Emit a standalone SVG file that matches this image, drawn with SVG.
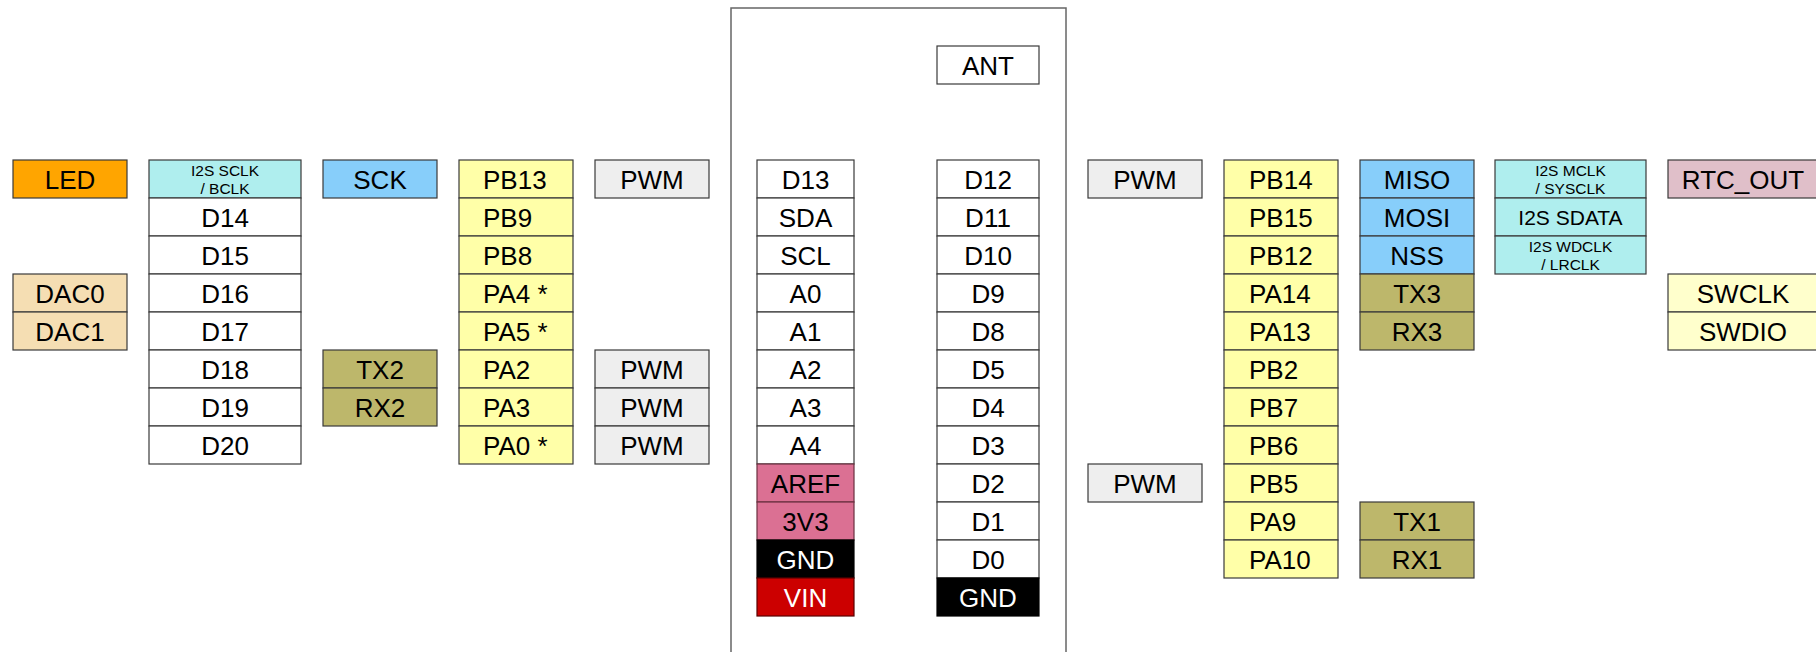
<svg xmlns="http://www.w3.org/2000/svg" width="1816" height="652" viewBox="0 0 1816 652">
<style>
rect{stroke:#3a3a3a;stroke-width:1.2}
text{font-family:"Liberation Sans",Arial,sans-serif;font-size:26px;fill:#000;text-anchor:middle}
.l{text-anchor:start}
.s{font-size:15.5px}
.m{font-size:21px}
.w{fill:#fff}
.led{fill:#FFA500}
.dac{fill:#F5DEB3}
.i2s{fill:#AFEEEE}
.spi{fill:#87CEFA}
.pin{fill:#FFFFA8}
.pwm{fill:#EEEEEE}
.uart{fill:#BDB76B}
.pwr{fill:#DB7093;stroke:#6a3040}
.gnd{fill:#000;stroke:#000}
.vin{fill:#CC0000;stroke:#5a0000}
.dig{fill:#fff}
.rtc{fill:#E0BFC9}
.swd{fill:#FFFFCC}
.board{fill:none;stroke:#666;stroke-width:1.5}
</style>
<g id="board"><rect class="board" x="731" y="8" width="335" height="700"/></g>
<g id="connectors"/>
<g id="led"><rect class="led" x="13" y="160" width="114" height="38"/><text x="70" y="189">LED</text></g>
<g id="dac0"><rect class="dac" x="13" y="274" width="114" height="38"/><text x="70" y="303">DAC0</text></g>
<g id="dac1"><rect class="dac" x="13" y="312" width="114" height="38"/><text x="70" y="341">DAC1</text></g>
<g id="i2s-sclk"><rect class="i2s" x="149" y="160" width="152" height="38"/><text class="s" x="225" y="176">I2S SCLK</text><text class="s" x="225" y="194">/ BCLK</text></g>
<g id="d14"><rect class="dig" x="149" y="198" width="152" height="38"/><text x="225" y="227">D14</text></g>
<g id="d15"><rect class="dig" x="149" y="236" width="152" height="38"/><text x="225" y="265">D15</text></g>
<g id="d16"><rect class="dig" x="149" y="274" width="152" height="38"/><text x="225" y="303">D16</text></g>
<g id="d17"><rect class="dig" x="149" y="312" width="152" height="38"/><text x="225" y="341">D17</text></g>
<g id="d18"><rect class="dig" x="149" y="350" width="152" height="38"/><text x="225" y="379">D18</text></g>
<g id="d19"><rect class="dig" x="149" y="388" width="152" height="38"/><text x="225" y="417">D19</text></g>
<g id="d20"><rect class="dig" x="149" y="426" width="152" height="38"/><text x="225" y="455">D20</text></g>
<g id="sck"><rect class="spi" x="323" y="160" width="114" height="38"/><text x="380" y="189">SCK</text></g>
<g id="tx2"><rect class="uart" x="323" y="350" width="114" height="38"/><text x="380" y="379">TX2</text></g>
<g id="rx2"><rect class="uart" x="323" y="388" width="114" height="38"/><text x="380" y="417">RX2</text></g>
<g id="pb13"><rect class="pin" x="459" y="160" width="114" height="38"/><text class="l" x="483" y="189">PB13</text></g>
<g id="pb9"><rect class="pin" x="459" y="198" width="114" height="38"/><text class="l" x="483" y="227">PB9</text></g>
<g id="pb8"><rect class="pin" x="459" y="236" width="114" height="38"/><text class="l" x="483" y="265">PB8</text></g>
<g id="pa4"><rect class="pin" x="459" y="274" width="114" height="38"/><text class="l" x="483" y="303">PA4 *</text></g>
<g id="pa5"><rect class="pin" x="459" y="312" width="114" height="38"/><text class="l" x="483" y="341">PA5 *</text></g>
<g id="pa2"><rect class="pin" x="459" y="350" width="114" height="38"/><text class="l" x="483" y="379">PA2</text></g>
<g id="pa3"><rect class="pin" x="459" y="388" width="114" height="38"/><text class="l" x="483" y="417">PA3</text></g>
<g id="pa0"><rect class="pin" x="459" y="426" width="114" height="38"/><text class="l" x="483" y="455">PA0 *</text></g>
<g id="pwm-l1"><rect class="pwm" x="595" y="160" width="114" height="38"/><text x="652" y="189">PWM</text></g>
<g id="pwm-l2"><rect class="pwm" x="595" y="350" width="114" height="38"/><text x="652" y="379">PWM</text></g>
<g id="pwm-l3"><rect class="pwm" x="595" y="388" width="114" height="38"/><text x="652" y="417">PWM</text></g>
<g id="pwm-l4"><rect class="pwm" x="595" y="426" width="114" height="38"/><text x="652" y="455">PWM</text></g>
<g id="d13"><rect class="dig" x="757" y="160" width="97" height="38"/><text x="805.5" y="189">D13</text></g>
<g id="sda"><rect class="dig" x="757" y="198" width="97" height="38"/><text x="805.5" y="227">SDA</text></g>
<g id="scl"><rect class="dig" x="757" y="236" width="97" height="38"/><text x="805.5" y="265">SCL</text></g>
<g id="a0"><rect class="dig" x="757" y="274" width="97" height="38"/><text x="805.5" y="303">A0</text></g>
<g id="a1"><rect class="dig" x="757" y="312" width="97" height="38"/><text x="805.5" y="341">A1</text></g>
<g id="a2"><rect class="dig" x="757" y="350" width="97" height="38"/><text x="805.5" y="379">A2</text></g>
<g id="a3"><rect class="dig" x="757" y="388" width="97" height="38"/><text x="805.5" y="417">A3</text></g>
<g id="a4"><rect class="dig" x="757" y="426" width="97" height="38"/><text x="805.5" y="455">A4</text></g>
<g id="aref"><rect class="pwr" x="757" y="464" width="97" height="38"/><text x="805.5" y="493">AREF</text></g>
<g id="v3v3"><rect class="pwr" x="757" y="502" width="97" height="38"/><text x="805.5" y="531">3V3</text></g>
<g id="gnd-l"><rect class="gnd" x="757" y="540" width="97" height="38"/><text class="w" x="805.5" y="569">GND</text></g>
<g id="vin"><rect class="vin" x="757" y="578" width="97" height="38"/><text class="w" x="805.5" y="607">VIN</text></g>
<g id="ant"><rect class="dig" x="937" y="46" width="102" height="38"/><text x="988" y="75">ANT</text></g>
<g id="d12"><rect class="dig" x="937" y="160" width="102" height="38"/><text x="988" y="189">D12</text></g>
<g id="d11"><rect class="dig" x="937" y="198" width="102" height="38"/><text x="988" y="227">D11</text></g>
<g id="d10"><rect class="dig" x="937" y="236" width="102" height="38"/><text x="988" y="265">D10</text></g>
<g id="d9"><rect class="dig" x="937" y="274" width="102" height="38"/><text x="988" y="303">D9</text></g>
<g id="d8"><rect class="dig" x="937" y="312" width="102" height="38"/><text x="988" y="341">D8</text></g>
<g id="d5"><rect class="dig" x="937" y="350" width="102" height="38"/><text x="988" y="379">D5</text></g>
<g id="d4"><rect class="dig" x="937" y="388" width="102" height="38"/><text x="988" y="417">D4</text></g>
<g id="d3"><rect class="dig" x="937" y="426" width="102" height="38"/><text x="988" y="455">D3</text></g>
<g id="d2"><rect class="dig" x="937" y="464" width="102" height="38"/><text x="988" y="493">D2</text></g>
<g id="d1"><rect class="dig" x="937" y="502" width="102" height="38"/><text x="988" y="531">D1</text></g>
<g id="d0"><rect class="dig" x="937" y="540" width="102" height="38"/><text x="988" y="569">D0</text></g>
<g id="gnd-r"><rect class="gnd" x="937" y="578" width="102" height="38"/><text class="w" x="988" y="607">GND</text></g>
<g id="pwm-r1"><rect class="pwm" x="1088" y="160" width="114" height="38"/><text x="1145" y="189">PWM</text></g>
<g id="pwm-r2"><rect class="pwm" x="1088" y="464" width="114" height="38"/><text x="1145" y="493">PWM</text></g>
<g id="pb14"><rect class="pin" x="1224" y="160" width="114" height="38"/><text class="l" x="1249" y="189">PB14</text></g>
<g id="pb15"><rect class="pin" x="1224" y="198" width="114" height="38"/><text class="l" x="1249" y="227">PB15</text></g>
<g id="pb12"><rect class="pin" x="1224" y="236" width="114" height="38"/><text class="l" x="1249" y="265">PB12</text></g>
<g id="pa14"><rect class="pin" x="1224" y="274" width="114" height="38"/><text class="l" x="1249" y="303">PA14</text></g>
<g id="pa13"><rect class="pin" x="1224" y="312" width="114" height="38"/><text class="l" x="1249" y="341">PA13</text></g>
<g id="pb2"><rect class="pin" x="1224" y="350" width="114" height="38"/><text class="l" x="1249" y="379">PB2</text></g>
<g id="pb7"><rect class="pin" x="1224" y="388" width="114" height="38"/><text class="l" x="1249" y="417">PB7</text></g>
<g id="pb6"><rect class="pin" x="1224" y="426" width="114" height="38"/><text class="l" x="1249" y="455">PB6</text></g>
<g id="pb5"><rect class="pin" x="1224" y="464" width="114" height="38"/><text class="l" x="1249" y="493">PB5</text></g>
<g id="pa9"><rect class="pin" x="1224" y="502" width="114" height="38"/><text class="l" x="1249" y="531">PA9</text></g>
<g id="pa10"><rect class="pin" x="1224" y="540" width="114" height="38"/><text class="l" x="1249" y="569">PA10</text></g>
<g id="miso"><rect class="spi" x="1360" y="160" width="114" height="38"/><text x="1417" y="189">MISO</text></g>
<g id="mosi"><rect class="spi" x="1360" y="198" width="114" height="38"/><text x="1417" y="227">MOSI</text></g>
<g id="nss"><rect class="spi" x="1360" y="236" width="114" height="38"/><text x="1417" y="265">NSS</text></g>
<g id="tx3"><rect class="uart" x="1360" y="274" width="114" height="38"/><text x="1417" y="303">TX3</text></g>
<g id="rx3"><rect class="uart" x="1360" y="312" width="114" height="38"/><text x="1417" y="341">RX3</text></g>
<g id="tx1"><rect class="uart" x="1360" y="502" width="114" height="38"/><text x="1417" y="531">TX1</text></g>
<g id="rx1"><rect class="uart" x="1360" y="540" width="114" height="38"/><text x="1417" y="569">RX1</text></g>
<g id="i2s-mclk"><rect class="i2s" x="1495" y="160" width="151" height="38"/><text class="s" x="1570.5" y="176">I2S MCLK</text><text class="s" x="1570.5" y="194">/ SYSCLK</text></g>
<g id="i2s-sdata"><rect class="i2s" x="1495" y="198" width="151" height="38"/><text class="m" x="1570.5" y="225">I2S SDATA</text></g>
<g id="i2s-wdclk"><rect class="i2s" x="1495" y="236" width="151" height="38"/><text class="s" x="1570.5" y="252">I2S WDCLK</text><text class="s" x="1570.5" y="270">/ LRCLK</text></g>
<g id="rtc-out"><rect class="rtc" x="1668" y="160" width="150" height="38"/><text x="1743" y="189">RTC_OUT</text></g>
<g id="swclk"><rect class="swd" x="1668" y="274" width="150" height="38"/><text x="1743" y="303">SWCLK</text></g>
<g id="swdio"><rect class="swd" x="1668" y="312" width="150" height="38"/><text x="1743" y="341">SWDIO</text></g>
</svg>
